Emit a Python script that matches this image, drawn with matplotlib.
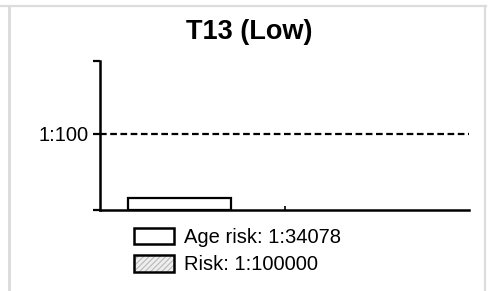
import matplotlib
matplotlib.use('Agg')
import matplotlib.pyplot as plt
from matplotlib.patches import Patch
from matplotlib.lines import Line2D

# data
series = ['Age risk', 'Risk']
denominators = [34078, 100000]
cutoff = 100
ytick_label = '1:100'
title = 'T13 (Low)'

W, H = 492, 291
plt.rcParams['font.family'] = ['Liberation Sans', 'DejaVu Sans']
plt.rcParams['hatch.linewidth'] = 0.8

fig = plt.figure(figsize=(W/100, H/100), dpi=100)

# light grey frame around the panel
grey = '#dcdcdc'
fig.add_artist(Line2D([0, 486/W], [1-6/H, 1-6/H], color=grey, lw=1.6))
fig.add_artist(Line2D([9/W, 9/W], [0, 1-6/H], color=grey, lw=2.2))
fig.add_artist(Line2D([485/W, 485/W], [0, 1-6/H], color=grey, lw=1.6))

ax = fig.add_axes([100/W, 1-210/H, 369/W, 149/H])

values = [1.0/d for d in denominators]
ymin = 1e-5
width = 0.56
start = 0.43
colors = ['white', '#eeeeee']
hatches = [None, '//////']
for i in range(len(values)):
    if values[i] <= ymin:
        continue
    ax.bar(start + i*width, values[i] - ymin, bottom=ymin, width=width,
           facecolor=colors[i], edgecolor='black', linewidth=1.6, hatch=hatches[i])

ax.axhline(1.0/cutoff, color='black', lw=1.6, ls=(0, (3, 1.6)))

ax.set_yscale('log')
ax.set_ylim(ymin, 10**0.88)
ax.set_xlim(0, 2)
ax.set_yticks([ymin, 1.0/cutoff, 10**0.88])
ax.set_yticklabels(['', ytick_label, ''])
ax.yaxis.set_minor_locator(matplotlib.ticker.NullLocator())
ax.set_xticks([1])
ax.set_xticklabels([])
ax.tick_params(axis='y', direction='out', length=5, width=1.6, labelsize=14.5, pad=3)
ax.tick_params(axis='x', direction='in', length=3, width=1.2)
for s in ['top', 'right']:
    ax.spines[s].set_visible(False)
for s in ['left', 'bottom']:
    ax.spines[s].set_linewidth(1.8)

fig.text(249/W, 1-32/H, title, ha='center', va='center', fontsize=19.5, fontweight='bold')

# legend: hatched fill with light grey lines under a black outline
handles = []
for i in range(len(series)):
    fill = Patch(facecolor=colors[i], edgecolor='#b8b8b8', linewidth=0, hatch=hatches[i])
    outline = Patch(facecolor='none', edgecolor='black', linewidth=1.8)
    handles.append((fill, outline))
labels = ['%s: 1:%d' % (series[i], denominators[i]) for i in range(len(series))]
fig.legend(handles, labels, loc='upper left', bbox_to_anchor=(134/W, 1-228/H),
           frameon=False, fontsize=14.5, handlelength=2.0, handleheight=0.85,
           handletextpad=0.5, labelspacing=0.42, borderpad=0, borderaxespad=0)

fig.savefig('out.png', dpi=100)
